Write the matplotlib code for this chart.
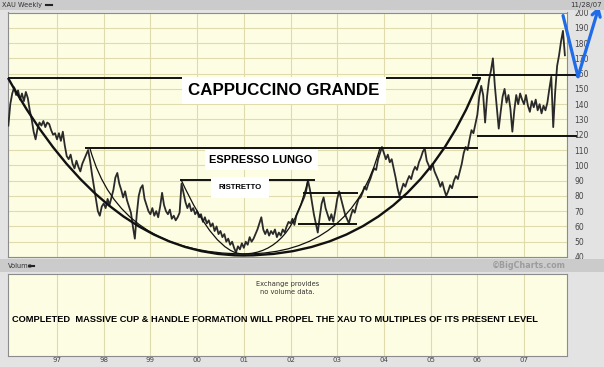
import numpy as np
import matplotlib
matplotlib.use("Agg")
import matplotlib.pyplot as plt
from matplotlib.path import Path
from matplotlib.patches import PathPatch, Rectangle
from matplotlib.lines import Line2D

# XAU weekly closes (mid Dec 1995 .. mid Nov 2007)
xau_1995 = [126]
xau_1996 = [140, 147, 151, 146, 149, 143, 147, 142, 148, 144, 136, 130,
            122, 117, 124, 128, 126, 129, 125, 128, 127, 123, 120, 121]
xau_1997 = [117, 121, 116, 122, 113, 106, 104, 107, 101, 98, 103, 99,
            96, 101, 104, 107, 110, 103, 94, 86, 78, 70, 67, 73]
xau_1998 = [75, 72, 78, 74, 79, 84, 92, 95, 88, 84, 79, 83,
            77, 73, 69, 60, 52, 68, 80, 85, 87, 78, 74, 70]
xau_1999 = [68, 72, 67, 70, 66, 73, 82, 74, 70, 68, 71, 65,
            67, 64, 66, 69, 88, 82, 76, 72, 75, 70, 72, 68]
xau_2000 = [70, 66, 68, 63, 66, 62, 64, 60, 62, 57, 60, 55,
            57, 53, 55, 50, 52, 48, 50, 46, 43, 47, 45, 49]
xau_2001 = [46, 50, 48, 53, 50, 52, 55, 58, 62, 66, 58, 55,
            58, 54, 57, 55, 58, 53, 56, 54, 58, 56, 60, 63]
xau_2002 = [62, 65, 61, 67, 70, 73, 76, 79, 83, 90, 84, 76,
            68, 62, 56, 66, 75, 79, 72, 68, 64, 68, 63, 70]
xau_2003 = [78, 83, 78, 73, 68, 65, 62, 67, 71, 69, 74, 78,
            79, 82, 86, 84, 88, 91, 95, 98, 97, 104, 108, 112]
xau_2004 = [108, 104, 107, 102, 104, 98, 92, 85, 80, 84, 88, 86,
            90, 93, 91, 96, 99, 97, 102, 105, 109, 111, 103, 100]
xau_2005 = [97, 101, 96, 93, 90, 86, 89, 84, 80, 83, 87, 85,
            90, 93, 91, 96, 101, 108, 112, 110, 117, 123, 121, 127]
xau_2006 = [133, 145, 152, 146, 128, 145, 156, 162, 170, 152, 138, 124,
            135, 145, 150, 141, 146, 137, 122, 136, 146, 140, 147, 143]
xau_2007 = [140, 146, 139, 135, 142, 138, 143, 136, 140, 134, 139, 136,
            141, 150, 158, 125, 148, 165, 172, 181, 188, 172]

xau = (xau_1995 + xau_1996 + xau_1997 + xau_1998 + xau_1999 + xau_2000 +
       xau_2001 + xau_2002 + xau_2003 + xau_2004 + xau_2005 + xau_2006 + xau_2007)

years = [1997, 1998, 1999, 2000, 2001, 2002, 2003, 2004, 2005, 2006, 2007]
year_labels = ["97", "98", "99", "00", "01", "02", "03", "04", "05", "06", "07"]
price_ticks = list(range(40, 201, 10))

# hand drawn support / resistance lines: level, from, to (decimal years)
level_vals = [157.2, 159.1, 111.5, 90.7, 82.0, 61.6, 79.0, 119.5]
level_from = [1995.95, 2005.89, 1997.60, 1999.63, 2002.27, 2002.16, 2003.64, 2005.99]
level_to = [2006.08, 2008.14, 2006.02, 2002.53, 2003.45, 2003.42, 2006.02, 2008.14]

# the three cups (quadratic bezier: rim, ctrl, bottom, ctrl, rim)
grande_x = [1995.951, 1998.064, 2000.983, 2004.565, 2006.058]
grande_y = [157.2, 41, 41, 41, 157.2]
espresso_x = [1997.706, 1998.336, 2001.026, 2003.315, 2003.916]
espresso_y = [111.0, 42, 42, 42, 111.5]
ristretto_x = [1999.655, 2000.383, 2000.983, 2002.028, 2002.375]
ristretto_y = [90.7, 42, 42, 42, 90.7]

# blue arrow drawn past the right edge
arrow_x = [2007.835, 2008.156, 2008.606]
arrow_y = [198.0, 158.0, 204.0]

W, H = 604, 367
fig = plt.figure(figsize=(W / 100, H / 100), dpi=100, facecolor="#e3e3e3")

# grey header strips
fig.patches.append(Rectangle((0, 1 - 10 / H), 1, 10 / H, transform=fig.transFigure,
                             facecolor="#cbcbcb", edgecolor="none", zorder=0))
fig.patches.append(Rectangle((0, 1 - 272 / H), 1, 13 / H, transform=fig.transFigure,
                             facecolor="#cbcbcb", edgecolor="none", zorder=0))

ax = fig.add_axes([8 / W, 1 - 257 / H, 559 / W, 244.5 / H])
ax2 = fig.add_axes([8 / W, 1 - 356 / H, 559 / W, 82 / H])

x0, x1 = 1995.951, 2007.92
x = 1995 + 23 / 24 + np.arange(len(xau)) / 24

for a in (ax, ax2):
    a.set_facecolor("#fdfde3")
    a.set_xlim(x0, x1)
    a.set_xticks(years)
    a.grid(True, color="#dfdbad", lw=0.8)
    a.set_axisbelow(True)
    for s in a.spines.values():
        s.set_color("#8c8c8c")
        s.set_linewidth(0.8)
    a.tick_params(length=0, labelsize=5.5, labelcolor="#444444")

ax.set_ylim(40, 200)
ax.set_yticks(price_ticks)
ax.yaxis.tick_right()
ax.tick_params(axis="y", pad=5.5)
ax.tick_params(axis="x", labelbottom=False)

ax2.set_ylim(0, 1)
ax2.set_yticks([])
ax2.grid(False, axis="y")
ax2.set_xticklabels(year_labels)
ax2.tick_params(axis="x", pad=1, labelsize=5)

# price series
ax.plot(x, xau, color="#2a2a2a", lw=1.3, zorder=3)

# horizontal levels
ax.hlines(level_vals, level_from, level_to, colors="#111111", lw=1.4,
          zorder=4, clip_on=False)

# cups
codes = [Path.MOVETO, Path.CURVE3, Path.CURVE3, Path.CURVE3, Path.CURVE3]
for cx, cy, lw in [(grande_x, grande_y, 1.7), (espresso_x, espresso_y, 0.9),
                   (ristretto_x, ristretto_y, 0.9)]:
    p = Path(list(zip(cx, cy)), codes)
    ax.add_patch(PathPatch(p, fill=False, edgecolor="#111111", lw=lw,
                           zorder=5, clip_on=False))

# arrow
blue = "#1f6be8"
ax.plot(arrow_x[:2], arrow_y[:2], color=blue, lw=2.3, clip_on=False,
        zorder=6, solid_capstyle="round")
ax.annotate("", xy=(arrow_x[2], arrow_y[2]), xytext=(arrow_x[1], arrow_y[1]),
            arrowprops=dict(arrowstyle="->,head_length=0.5,head_width=0.3",
                            color=blue, lw=2.3, shrinkA=0, shrinkB=0),
            annotation_clip=False, zorder=6)

# labels
fam = ["Liberation Sans", "DejaVu Sans"]
ax.text(2001.86, 148.9, "CAPPUCCINO GRANDE", fontsize=12.2, fontweight="bold",
        family=fam, ha="center", va="center", zorder=7,
        bbox=dict(boxstyle="square,pad=0.35", facecolor="white", edgecolor="none"))
ax.text(2001.37, 103.6, "ESPRESSO LUNGO", fontsize=7.9, fontweight="bold",
        family=fam, ha="center", va="center", zorder=7,
        bbox=dict(boxstyle="square,pad=0.45", facecolor="white", edgecolor="none"))
ax.text(2000.92, 85.2, "RISTRETTO", fontsize=5.6, fontweight="bold",
        family=fam, ha="center", va="center", zorder=7,
        bbox=dict(boxstyle="square,pad=0.9", facecolor="white", edgecolor="none"))

ax2.text(0.5, 0.83, "Exchange provides\nno volume data.", transform=ax2.transAxes,
         ha="center", va="center", fontsize=4.8, color="#333333", linespacing=1.3)
msg = ax2.text(4 / 559, 0.446,
               "COMPLETED  MASSIVE CUP & HANDLE FORMATION WILL PROPEL THE XAU "
               "TO MULTIPLES OF ITS PRESENT LEVEL",
               transform=ax2.transAxes, ha="left", va="center", fontsize=7.5,
               fontweight="bold",
               family=["Liberation Sans Narrow", "Liberation Sans", "DejaVu Sans"])

# header texts
fig.text(2 / W, 1 - 5 / H, "XAU Weekly", fontsize=4.8, color="#333333", va="center")
fig.lines.append(Line2D([46 / W, 52 / W], [1 - 5 / H, 1 - 5 / H], transform=fig.transFigure,
                        color="#222222", lw=1.5))
fig.text(602 / W, 1 - 5 / H, "11/28/07", fontsize=5, color="#333333",
         ha="right", va="center")
fig.text(8 / W, 1 - 266 / H, "Volume", fontsize=4.8, color="#333333", va="center")
fig.lines.append(Line2D([29 / W, 34 / W], [1 - 266 / H, 1 - 266 / H], transform=fig.transFigure,
                        color="#222222", lw=1.5))
fig.text(566 / W, 1 - 266 / H, "\u00a9BigCharts.com", fontsize=5.8, fontweight="bold",
         color="#9c9c9c", ha="right", va="center")

# fit the bottom message to its width in the reference
fig.canvas.draw()
wpx = msg.get_window_extent().width
msg.set_fontsize(7.5 * 526 / wpx)

fig.savefig("out.png", dpi=100, facecolor=fig.get_facecolor())
